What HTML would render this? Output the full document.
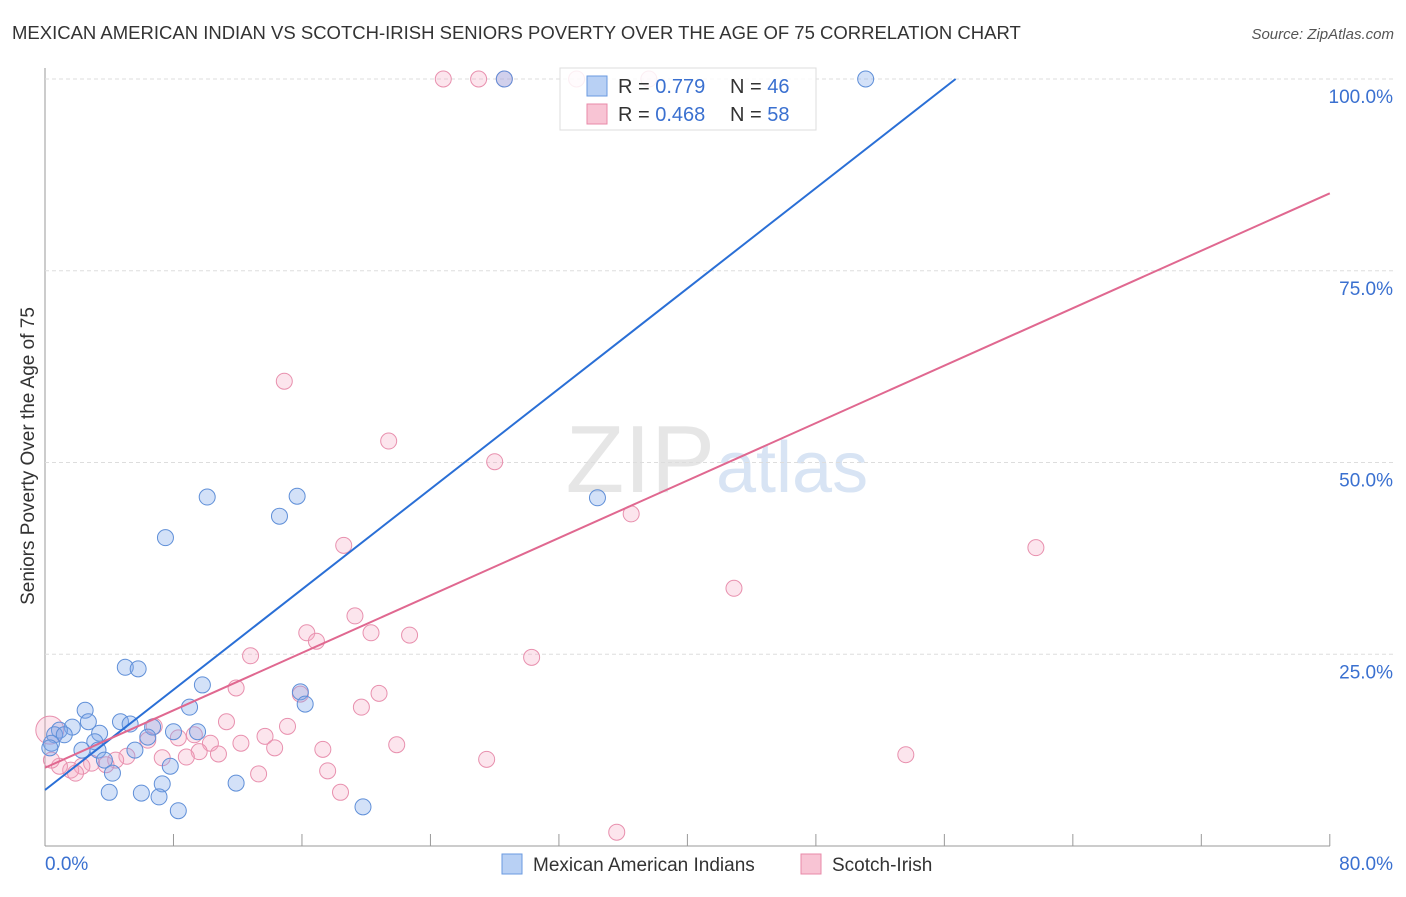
<!DOCTYPE html>
<html><head><meta charset="utf-8"><style>
body{margin:0;background:#fff;font-family:"Liberation Sans",sans-serif;}
svg text{font-family:"Liberation Sans",sans-serif;}
</style></head><body>
<svg id="c" width="1406" height="892">
<text x="12" y="39" font-size="18.5" fill="#333">MEXICAN AMERICAN INDIAN VS SCOTCH-IRISH SENIORS POVERTY OVER THE AGE OF 75 CORRELATION CHART</text>
<text x="1394" y="39" font-size="15" fill="#555" font-style="italic" text-anchor="end">Source: ZipAtlas.com</text>
<text x="715" y="492" font-size="96" fill="#e6e6e6" font-family="Liberation Serif" text-anchor="end">ZIP</text>
<text x="716" y="492" font-size="72" fill="#d8e4f4">atlas</text>
<text transform="translate(34,456) rotate(-90)" font-size="19" fill="#333" text-anchor="middle">Seniors Poverty Over the Age of 75</text>
<g id="grid"></g><g id="pts"></g><g id="lines"></g>
<g>
<rect x="560" y="68" width="256" height="62" fill="#fff" fill-opacity="0.85" stroke="#ddd"/>
<rect x="587" y="76" width="20" height="20" fill="#b8d0f4" stroke="#6a9ae0"/>
<rect x="587" y="104" width="20" height="20" fill="#f8c4d4" stroke="#e88aa8"/>
<text x="618" y="93" font-size="20" fill="#333">R = <tspan fill="#3a70d0">0.779</tspan><tspan x="730">N = </tspan><tspan fill="#3a70d0">46</tspan></text>
<text x="618" y="121" font-size="20" fill="#333">R = <tspan fill="#3a70d0">0.468</tspan><tspan x="730">N = </tspan><tspan fill="#3a70d0">58</tspan></text>
</g>
<g>
<rect x="502" y="854" width="20" height="20" fill="#b8d0f4" stroke="#6a9ae0"/>
<text x="533" y="871" font-size="19" fill="#333">Mexican American Indians</text>
<rect x="801" y="854" width="20" height="20" fill="#f8c4d4" stroke="#e88aa8"/>
<text x="832" y="871" font-size="19" fill="#333">Scotch-Irish</text>
</g>
<text x="45" y="870" font-size="19" fill="#3a70d0">0.0%</text>
<text x="1393" y="870" font-size="19" fill="#3a70d0" text-anchor="end">80.0%</text>
</svg>
<script>
const yTicks=[25,50,75,100];
const yTickLabels=["25.0%","50.0%","75.0%","100.0%"];
const xTicks=[0,8,16,24,32,40,48,56,64,72,80];
const blueX=[28.6,51.1,10.1,15.7,14.6,34.4,7.5,5.0,5.8,9.8,15.9,16.2,9.0,2.5,2.7,4.7,5.3,6.7,1.7,0.9,0.6,1.2,3.4,8.0,9.5,6.4,3.1,0.4,2.3,5.6,3.3,3.7,4.2,7.8,7.3,4.0,6.0,7.1,11.9,8.3,19.8,0.3];
const blueY=[100,100,45.5,45.6,43.0,45.4,40.2,23.3,23.1,21.0,20.1,18.5,18.1,17.7,16.2,16.2,15.9,15.5,15.5,15.1,14.5,14.5,14.7,14.9,14.9,14.2,13.6,13.4,12.5,12.5,12.5,11.2,9.5,10.4,8.1,7.0,6.9,6.4,8.2,4.6,5.1,12.8];
const pinkX=[24.8,27.0,28.6,33.1,37.6,14.9,21.4,28.0,36.5,61.7,18.6,42.9,19.3,16.3,16.9,20.3,22.7,30.3,12.8,11.9,15.9,20.8,19.7,11.3,15.1,6.8,6.4,8.3,9.3,13.7,10.3,12.2,14.3,17.3,21.9,9.6,10.8,7.3,8.8,5.1,4.4,2.9,2.3,1.6,0.9,0.4,1.9,3.8,27.5,53.6,17.6,13.3,18.4,35.6,0.3];
const pinkY=[100,100,100,100,100,60.6,52.8,50.1,43.3,38.9,39.2,33.6,30.0,27.8,26.7,27.8,27.5,24.6,24.8,20.6,19.8,19.9,18.1,16.2,15.6,15.6,13.8,14.1,14.5,14.3,13.4,13.4,12.8,12.6,13.2,12.3,12.0,11.5,11.6,11.7,11.2,10.8,10.4,9.9,10.4,11.2,9.5,10.6,11.3,11.9,9.8,9.4,7.0,1.8,15.1];
const blueLine=[0,7.3,56.7,100];
const pinkLine=[0,10.2,80,85.1];
const X=v=>45+v*16.06, Y=v=>846-v*7.67;
const NS="http://www.w3.org/2000/svg";
function mk(p,t,a){const e=document.createElementNS(NS,t);for(const k in a)e.setAttribute(k,a[k]);p.appendChild(e);return e;}
const g=document.getElementById('grid');
const ax=mk(g,'line',{x1:45,y1:68,x2:45,y2:846,stroke:'#999'});


const bx=mk(g,'line',{x1:45,y1:846,x2:1330,y2:846,stroke:'#999'});


xTicks.forEach(v=>{const t=mk(g,'line',{x1:X(v),y1:846,x2:X(v),y2:834,stroke:'#999'});

});
yTicks.forEach((v,i)=>{const l=mk(g,'line',{x1:45,y1:Y(v),x2:1395,y2:Y(v),stroke:'#ddd','stroke-dasharray':'4,3'});


const t=mk(g,'text',{x:1393,y:Y(v)+24,'font-size':19,fill:'#3a70d0','text-anchor':'end'});t.textContent=yTickLabels[i];

});
const P=document.getElementById('pts');
pinkX.forEach((x,i)=>{const c=mk(P,'circle',{cx:X(x),cy:Y(pinkY[i]),r:(i==pinkX.length-1)?14:8,fill:'rgba(245,170,195,0.3)',stroke:'#e890ae','stroke-width':1});

});
blueX.forEach((x,i)=>{const c=mk(P,'circle',{cx:X(x),cy:Y(blueY[i]),r:8,fill:'rgba(130,170,235,0.35)',stroke:'#5f8fd8','stroke-width':1});

});
const L=document.getElementById('lines');
const b=mk(L,'line',{x1:X(blueLine[0]),y1:Y(blueLine[1]),x2:X(blueLine[2]),y2:Y(blueLine[3]),stroke:'#2a6fd6','stroke-width':2});


const p=mk(L,'line',{x1:X(pinkLine[0]),y1:Y(pinkLine[1]),x2:X(pinkLine[2]),y2:Y(pinkLine[3]),stroke:'#e06890','stroke-width':2});


</script>
</body></html>
